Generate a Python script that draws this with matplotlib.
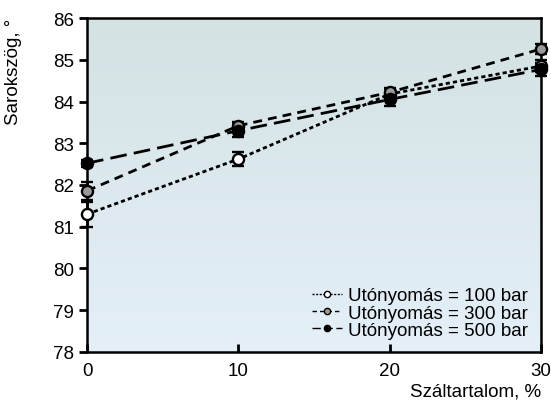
import numpy as np
import matplotlib
matplotlib.use("Agg")
import matplotlib.pyplot as plt
from matplotlib.lines import Line2D

plt.rcParams["font.family"] = ["Liberation Sans", "DejaVu Sans"]

# fibre content (%) and corner angle measurements
szal = [0, 10, 20, 30]
labels = ["Utónyomás = 100 bar", "Utónyomás = 300 bar", "Utónyomás = 500 bar"]
szog_100 = [81.30, 82.62, 84.18, 84.85]
hiba_100 = [0.30, 0.16, 0.12, 0.15]
szog_300 = [81.86, 83.42, 84.22, 85.26]
hiba_300 = [0.22, 0.10, 0.10, 0.12]
szog_500 = [82.52, 83.30, 84.05, 84.77]
hiba_500 = [0.08, 0.15, 0.15, 0.15]

fig = plt.figure(figsize=(5.51, 4.06), dpi=100)
ax = fig.add_axes([0.158, 0.131, 0.824, 0.822])

# soft vertical gradient behind the data
grad = np.linspace(0, 1, 256).reshape(-1, 1)
cmap = matplotlib.colors.LinearSegmentedColormap.from_list(
    "bg", ["#e4eff8", "#d4e2e3"])
ax.imshow(grad, cmap=cmap, aspect="auto", extent=[0, 1, 0, 1],
          transform=ax.transAxes, origin="lower", zorder=0)

stilus = [
    (szog_100, hiba_100, (0, (1.5, 1.1)), "white"),
    (szog_300, hiba_300, (0, (3.2, 2.2)), "#9a9a9a"),
    (szog_500, hiba_500, (0, (6, 2.6)), "black"),
]
jelek = []
for (y, e, ls, fc), lab in zip(stilus, labels):
    ax.errorbar(szal, y, yerr=e, color="black", linestyle=ls, linewidth=2.0,
                marker="o", markersize=8, markerfacecolor=fc,
                markeredgecolor="black", markeredgewidth=1.7,
                ecolor="black", elinewidth=2.0, capsize=4.5, capthick=2.0,
                zorder=3, clip_on=False)
    jelek.append(Line2D([], [], color="black", linestyle=ls, linewidth=1.0,
                        marker="o", markersize=4.5, markerfacecolor=fc,
                        markeredgecolor="black", label=lab))

ax.set_xlim(0, 30)
ax.set_ylim(78, 86)
ax.set_xticks([0, 10, 20, 30])
ax.set_yticks(range(78, 87))
ax.tick_params(axis="x", direction="in", length=6, width=2, labelsize=13.5, pad=7)
ax.tick_params(axis="y", direction="out", length=6, width=2, labelsize=13.5)
for s in ax.spines.values():
    s.set_linewidth(1.8)

ax.set_xlabel("Száltartalom, %", fontsize=13.5, loc="right", labelpad=3)
ax.set_ylabel("Sarokszög, °", fontsize=13.5, loc="top", labelpad=22)

ax.legend(handles=jelek, loc="lower right", frameon=False, fontsize=13.5,
          handlelength=1.6, handletextpad=0.3, labelspacing=0.0,
          borderaxespad=0.3)

fig.savefig("out.png", dpi=100)
